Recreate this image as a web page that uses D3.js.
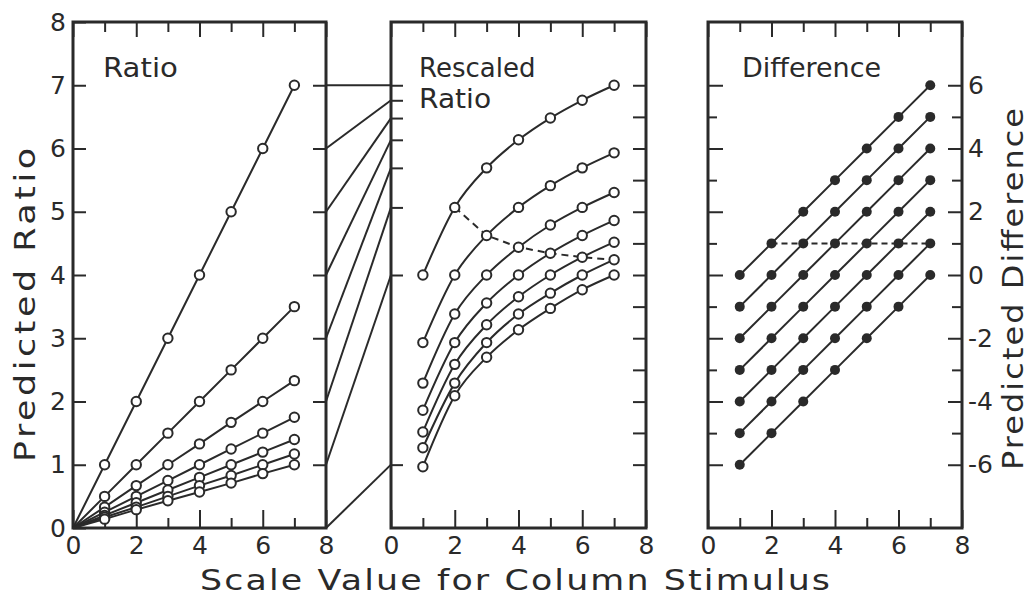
<!DOCTYPE html>
<html>
<head>
<meta charset="utf-8">
<script src="https://cdn.jsdelivr.net/npm/d3@7"></script>
<style>
  html, body { margin: 0; padding: 0; background: #fff; }
  svg { display: block; }
</style>
</head>
<body>
<div id="chart"></div>
<script>
// column stimulus values (x) shared by all three panels
const stimulus = [1, 2, 3, 4, 5, 6, 7];

// predicted ratios, one row per row stimulus (left: linear, middle: rescaled / log)
const ratioSeries = [
  [1, 2, 3, 4, 5, 6, 7],
  [0.5, 1, 1.5, 2, 2.5, 3, 3.5],
  [0.33, 0.67, 1, 1.33, 1.67, 2, 2.33],
  [0.25, 0.5, 0.75, 1, 1.25, 1.5, 1.75],
  [0.2, 0.4, 0.6, 0.8, 1, 1.2, 1.4],
  [0.17, 0.33, 0.5, 0.67, 0.83, 1, 1.17],
  [0.14, 0.29, 0.43, 0.57, 0.71, 0.86, 1],
];
const ratioOrigin = [0, 0];

// predicted differences
const differenceSeries = [
  [0, 1, 2, 3, 4, 5, 6],
  [-1, 0, 1, 2, 3, 4, 5],
  [-2, -1, 0, 1, 2, 3, 4],
  [-3, -2, -1, 0, 1, 2, 3],
  [-4, -3, -2, -1, 0, 1, 2],
  [-5, -4, -3, -2, -1, 0, 1],
  [-6, -5, -4, -3, -2, -1, 0],
];

// dashed "equal difference" paths
const dashedStimulus = [2, 3, 4, 5, 6, 7];
const dashedRatio = [2, 1.5, 1.33, 1.25, 1.2, 1.17];
const dashedDifference = [1, 1, 1, 1, 1, 1];

// lines joining the ratio axis to the rescaled axis
const connectorFrom = [0, 1, 2, 3, 4, 5, 6, 7];
const connectorTo = [0.143, 1, 2, 3, 4, 5, 6, 7];

// ticks
const xMajorTicks = [0, 2, 4, 6, 8];
const xMinorTicks = [1, 3, 5, 7];
const ratioTicks = [0, 1, 2, 3, 4, 5, 6, 7, 8];
const ratioInnerTicks = [1, 2, 3, 4, 5, 6, 7];
const rescaledTicks = [0.143, 0.198, 0.273, 0.378, 0.523, 0.723, 1, 1.383, 1.913, 2.646, 3.659, 5.061, 7];
const differenceMajorTicks = [-6, -4, -2, 0, 2, 4, 6];
const differenceMinorTicks = [-5, -3, -1, 1, 3, 5];

const width = 1034;
const height = 596;
const ink = '#2a2a2a';
const font = "'DejaVu Sans', 'Liberation Sans', sans-serif";

const plotTop = 22;
const plotBottom = 528;
const panels = [
  { x0: 73, x1: 326 },
  { x0: 391, x1: 646 },
  { x0: 708, x1: 962 },
];

const svg = d3.select('#chart')
  .append('svg')
  .attr('width', width)
  .attr('height', height);

// scales
const xScales = panels.map(p => d3.scaleLinear().domain([0, 8]).range([p.x0, p.x1]));
const yRatio = d3.scaleLinear().domain([0, 8]).range([plotBottom, plotTop]);
const yDiff = d3.scaleLinear().domain([-8, 8]).range([plotBottom, plotTop]);
const yLog = d3.scaleLog().domain([1 / 7, 7]).range([yDiff(-6), yDiff(6)]);

// style an axis group
const styleAxis = (g, size) => {
  g.select('.domain').remove();
  g.selectAll('line').attr('stroke', ink).attr('stroke-width', 2);
  g.selectAll('text')
    .attr('fill', ink)
    .style('font-family', font)
    .style('font-size', size + 'px');
  return g;
};

// x axes for every panel (bottom labelled, top ticks only)
xScales.forEach((x) => {
  svg.append('g')
    .attr('transform', `translate(0,${plotBottom})`)
    .call(d3.axisBottom(x).tickValues(xMajorTicks).tickSize(-18).tickPadding(8))
    .call(g => styleAxis(g, 25));
  svg.append('g')
    .attr('transform', `translate(0,${plotBottom})`)
    .call(d3.axisBottom(x).tickValues(xMinorTicks).tickSize(-10).tickFormat(''))
    .call(g => styleAxis(g, 25));
  svg.append('g')
    .attr('transform', `translate(0,${plotTop})`)
    .call(d3.axisTop(x).tickValues(xMajorTicks).tickSize(-15).tickFormat(''))
    .call(g => styleAxis(g, 25));
  svg.append('g')
    .attr('transform', `translate(0,${plotTop})`)
    .call(d3.axisTop(x).tickValues(xMinorTicks).tickSize(-10).tickFormat(''))
    .call(g => styleAxis(g, 25));
});

// left panel y axes
svg.append('g')
  .attr('transform', `translate(${panels[0].x0},0)`)
  .call(d3.axisLeft(yRatio).tickValues(ratioTicks).tickSize(-13).tickPadding(7))
  .call(g => styleAxis(g, 25));
svg.append('g')
  .attr('transform', `translate(${panels[0].x1},0)`)
  .call(d3.axisRight(yRatio).tickValues(ratioInnerTicks).tickSize(-13).tickFormat(''))
  .call(g => styleAxis(g, 25));

// middle panel y axes
svg.append('g')
  .attr('transform', `translate(${panels[1].x0},0)`)
  .call(d3.axisLeft(yLog).tickValues(connectorTo).tickSize(-12).tickFormat(''))
  .call(g => styleAxis(g, 25));
svg.append('g')
  .attr('transform', `translate(${panels[1].x1},0)`)
  .call(d3.axisRight(yLog).tickValues(rescaledTicks).tickSize(-13).tickFormat(''))
  .call(g => styleAxis(g, 25));

// right panel y axes
svg.append('g')
  .attr('transform', `translate(${panels[2].x0},0)`)
  .call(d3.axisLeft(yDiff).tickValues(differenceMajorTicks).tickSize(-15).tickFormat(''))
  .call(g => styleAxis(g, 25));
svg.append('g')
  .attr('transform', `translate(${panels[2].x0},0)`)
  .call(d3.axisLeft(yDiff).tickValues(differenceMinorTicks).tickSize(-9).tickFormat(''))
  .call(g => styleAxis(g, 25));
svg.append('g')
  .attr('transform', `translate(${panels[2].x1},0)`)
  .call(d3.axisRight(yDiff).tickValues(differenceMajorTicks).tickSize(-14).tickPadding(6).tickFormat(d => String(d)))
  .call(g => styleAxis(g, 25));
svg.append('g')
  .attr('transform', `translate(${panels[2].x1},0)`)
  .call(d3.axisRight(yDiff).tickValues(differenceMinorTicks).tickSize(-10).tickFormat(''))
  .call(g => styleAxis(g, 25));

// connectors between left and middle panels
svg.append('g')
  .selectAll('line')
  .data(connectorFrom)
  .enter()
  .append('line')
  .attr('x1', panels[0].x1)
  .attr('y1', d => yRatio(d))
  .attr('x2', panels[1].x0)
  .attr('y2', (d, i) => yLog(connectorTo[i]))
  .attr('stroke', ink)
  .attr('stroke-width', 2);

// panel frames
panels.forEach((p) => {
  svg.append('rect')
    .attr('x', p.x0)
    .attr('y', plotTop)
    .attr('width', p.x1 - p.x0)
    .attr('height', plotBottom - plotTop)
    .attr('fill', 'none')
    .attr('stroke', ink)
    .attr('stroke-width', 3);
});

// left panel: ratio
const xL = xScales[0];
const leftLine = d3.line().x(d => xL(d[0])).y(d => yRatio(d[1]));
svg.append('g')
  .selectAll('path')
  .data(ratioSeries)
  .enter()
  .append('path')
  .attr('d', row => leftLine([ratioOrigin, ...row.map((v, i) => [stimulus[i], v])]))
  .attr('fill', 'none')
  .attr('stroke', ink)
  .attr('stroke-width', 2);
ratioSeries.forEach((row) => {
  svg.append('g')
    .selectAll('circle')
    .data(row)
    .enter()
    .append('circle')
    .attr('cx', (d, i) => xL(stimulus[i]))
    .attr('cy', d => yRatio(d))
    .attr('r', 4.7)
    .attr('fill', '#fff')
    .attr('stroke', ink)
    .attr('stroke-width', 2);
});

// middle panel: rescaled ratio
const xM = xScales[1];
const midLine = d3.line()
  .x(d => xM(d[0]))
  .y(d => yLog(d[1]))
  .curve(d3.curveMonotoneX);
svg.append('g')
  .selectAll('path')
  .data(ratioSeries)
  .enter()
  .append('path')
  .attr('d', row => midLine(row.map((v, i) => [stimulus[i], v])))
  .attr('fill', 'none')
  .attr('stroke', ink)
  .attr('stroke-width', 2);
svg.append('path')
  .attr('d', d3.line().x(d => xM(d[0])).y(d => yLog(d[1]))(dashedStimulus.map((s, i) => [s, dashedRatio[i]])))
  .attr('fill', 'none')
  .attr('stroke', ink)
  .attr('stroke-width', 2)
  .attr('stroke-dasharray', '7,5');
ratioSeries.forEach((row) => {
  svg.append('g')
    .selectAll('circle')
    .data(row)
    .enter()
    .append('circle')
    .attr('cx', (d, i) => xM(stimulus[i]))
    .attr('cy', d => yLog(d))
    .attr('r', 4.7)
    .attr('fill', '#fff')
    .attr('stroke', ink)
    .attr('stroke-width', 2);
});

// right panel: difference
const xR = xScales[2];
const rightLine = d3.line().x(d => xR(d[0])).y(d => yDiff(d[1]));
svg.append('g')
  .selectAll('path')
  .data(differenceSeries)
  .enter()
  .append('path')
  .attr('d', row => rightLine(row.map((v, i) => [stimulus[i], v])))
  .attr('fill', 'none')
  .attr('stroke', ink)
  .attr('stroke-width', 2);
svg.append('path')
  .attr('d', rightLine(dashedStimulus.map((s, i) => [s, dashedDifference[i]])))
  .attr('fill', 'none')
  .attr('stroke', ink)
  .attr('stroke-width', 2)
  .attr('stroke-dasharray', '6,4');
differenceSeries.forEach((row) => {
  svg.append('g')
    .selectAll('circle')
    .data(row)
    .enter()
    .append('circle')
    .attr('cx', (d, i) => xR(stimulus[i]))
    .attr('cy', d => yDiff(d))
    .attr('r', 5)
    .attr('fill', ink);
});

// titles: the original face is wide, so stretch DejaVu a little horizontally
const addText = (txt, x, y, size, opts = {}) => {
  const stretch = opts.stretch || 1;
  const rotate = opts.rotate ? ` rotate(${opts.rotate})` : '';
  const t = svg.append('text')
    .attr('x', 0)
    .attr('y', 0)
    .attr('transform', `translate(${x},${y})${rotate} scale(${stretch},1)`)
    .attr('fill', ink)
    .style('font-family', font)
    .style('font-size', size + 'px')
    .attr('text-anchor', opts.anchor || 'start')
    .text(txt);
  if (opts.length) t.attr('textLength', opts.length / stretch).attr('lengthAdjust', 'spacing');
  return t;
};

addText('Ratio', 103, 77, 27, { stretch: 1.08 });
addText('Rescaled', 419, 77, 26, { stretch: 1.0 });
addText('Ratio', 419, 108, 26, { stretch: 1.08 });
addText('Difference', 742, 77, 27, { stretch: 1.0 });

addText('Scale Value for Column Stimulus', 515, 590, 29, { anchor: 'middle', length: 630, stretch: 1.2 });
addText('Predicted Ratio', 35, 305, 29, { anchor: 'middle', length: 314, stretch: 1.2, rotate: -90 });
addText('Predicted Difference', 1023, 289, 29, { anchor: 'middle', length: 362, stretch: 1.1, rotate: -90 });
</script>
</body>
</html>
